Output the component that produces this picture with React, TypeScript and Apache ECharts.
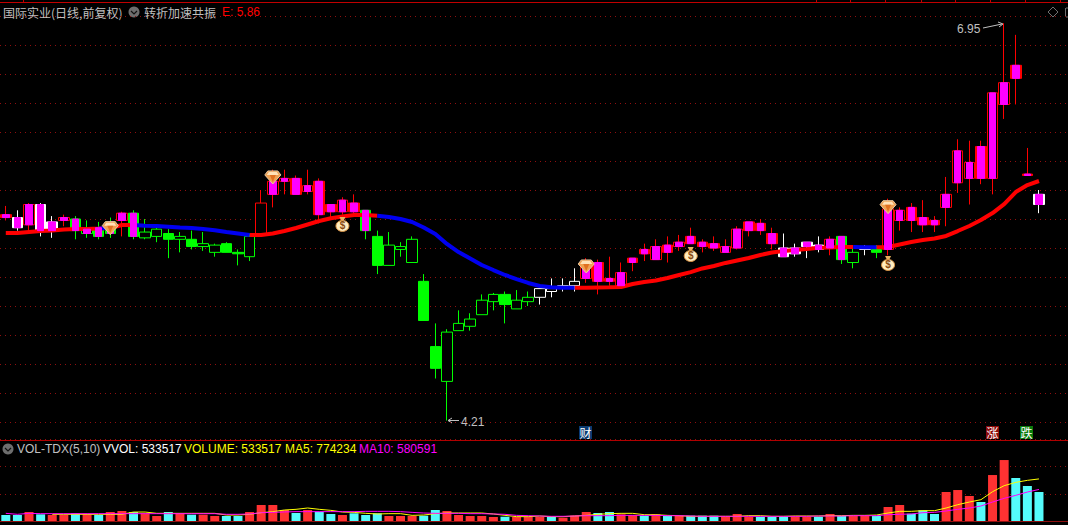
import React, { useEffect, useRef } from "react";
import * as echarts from "echarts";

const highs = [
  5.69,5.66,5.71,5.71,5.62,5.63,5.62,5.59,5.58,5.61,
  5.65,5.66,5.60,5.54,5.53,5.51,5.52,5.51,5.43,5.44,
  5.39,5.50,5.80,5.94,5.94,5.90,5.94,5.88,5.70,5.75,
  5.77,5.66,5.52,5.51,5.44,5.48,5.22,4.88,4.84,4.97,
  4.95,5.08,5.09,5.10,5.11,5.10,5.12,5.19,5.19,5.26,
  5.33,5.32,5.34,5.30,5.33,5.43,5.46,5.48,5.49,5.54,
  5.46,5.48,5.46,5.55,5.58,5.60,5.54,5.50,5.43,5.44,
  5.48,5.48,5.48,5.41,5.42,5.42,5.74,5.68,5.71,5.73,
  5.62,5.89,6.15,6.14,6.14,6.47,6.95,6.87,6.09,5.80,
];
const bodyHigh = [
  5.63,5.61,5.70,5.70,5.58,5.61,5.60,5.53,5.54,5.58,
  5.64,5.64,5.51,5.53,5.50,5.48,5.46,5.43,5.42,5.43,
  5.37,5.48,5.71,5.86,5.88,5.88,5.83,5.86,5.70,5.73,
  5.71,5.66,5.48,5.42,5.41,5.46,5.17,4.72,4.82,4.88,
  4.91,5.04,5.08,5.08,5.04,5.06,5.12,5.12,5.14,5.17,
  5.30,5.30,5.19,5.23,5.33,5.39,5.41,5.42,5.44,5.48,
  5.44,5.43,5.41,5.53,5.58,5.57,5.50,5.40,5.40,5.44,
  5.42,5.46,5.48,5.37,5.40,5.39,5.67,5.66,5.68,5.61,
  5.59,5.77,6.07,5.99,6.10,6.47,6.54,6.66,5.91,5.77,
];
const bodyLow = [
  5.61,5.54,5.56,5.52,5.52,5.59,5.52,5.50,5.48,5.50,
  5.59,5.48,5.47,5.48,5.46,5.46,5.41,5.41,5.37,5.37,
  5.36,5.34,5.49,5.77,5.86,5.77,5.79,5.63,5.65,5.65,
  5.65,5.52,5.28,5.28,5.39,5.30,4.90,4.57,4.48,4.83,
  4.86,4.94,5.03,5.01,4.98,5.03,5.06,5.10,5.13,5.14,
  5.19,5.17,5.17,5.14,5.30,5.36,5.32,5.37,5.41,5.43,
  5.41,5.40,5.37,5.40,5.52,5.52,5.43,5.34,5.36,5.41,
  5.39,5.40,5.32,5.30,5.39,5.37,5.39,5.59,5.59,5.56,
  5.56,5.68,5.85,5.88,5.88,5.88,6.39,6.57,5.90,5.70,
];
const lows = [
  5.59,5.52,5.52,5.48,5.47,5.55,5.46,5.47,5.46,5.47,
  5.48,5.46,5.46,5.44,5.33,5.37,5.39,5.38,5.34,5.37,
  5.28,5.31,5.49,5.68,5.77,5.77,5.77,5.57,5.61,5.63,
  5.63,5.46,5.22,5.28,5.34,5.30,4.90,4.50,4.21,4.83,
  4.83,4.94,4.97,4.88,4.98,5.00,5.01,5.06,5.10,5.10,
  5.16,5.08,5.14,5.14,5.24,5.31,5.32,5.30,5.38,5.43,
  5.37,5.38,5.37,5.39,5.48,5.49,5.39,5.34,5.34,5.33,
  5.37,5.35,5.29,5.26,5.35,5.33,5.35,5.52,5.51,5.51,
  5.51,5.55,5.78,5.70,5.84,5.77,6.29,6.39,5.90,5.64,
];
// S solid red, R hollow red, W solid white, G solid green, H hollow green (these five carry the magenta fill)
// r hollow red, g hollow green, F solid green, w hollow white
const kinds = [
  "S","W","R","W","W","R","G","H","G","G",
  "R","G","g","g","F","g","F","g","g","F",
  "F","g","r","R","R","S","R","S","S","R",
  "S","G","F","g","g","g","F","F","g","g",
  "g","g","g","F","g","g","w","w","w","w",
  "R","S","S","R","S","S","R","S","R","S",
  "S","S","R","R","S","S","S","W","W","W",
  "W","R","G","g","w","F","R","R","S","S",
  "S","R","R","R","S","R","R","S","S","W",
];
const trendE = [
  5.503,5.503,5.510,5.517,5.521,5.528,5.531,5.531,5.534,5.538,
  5.559,5.559,5.554,5.552,5.547,5.541,5.538,5.531,5.522,5.510,
  5.500,5.490,5.490,5.500,5.517,5.538,5.562,5.586,5.605,5.617,
  5.628,5.628,5.623,5.614,5.600,5.579,5.541,5.497,5.428,5.372,
  5.328,5.283,5.248,5.214,5.186,5.159,5.138,5.130,5.126,5.126,
  5.126,5.128,5.129,5.131,5.152,5.166,5.176,5.193,5.214,5.234,
  5.259,5.276,5.297,5.314,5.331,5.352,5.369,5.379,5.386,5.393,
  5.402,5.403,5.407,5.407,5.405,5.405,5.407,5.424,5.441,5.455,
  5.466,5.483,5.517,5.552,5.593,5.641,5.703,5.786,5.834,5.862,
];
const fallingSpans = [[8, 9], [11, 21], [32, 49], [73, 75]];
const diamondMarks = [[9, 5.54], [23, 5.89], [50, 5.276], [76, 5.685]];
const bagMarks = [[29, 5.566], [59, 5.359], [76, 5.297]];

// volume, thousands of shares
const volumes = [
  110,110,166,123,110,110,142,123,110,166,
  184,166,142,92,166,142,116,116,92,92,
  92,166,294,294,202,147,202,171,129,110,
  142,110,142,92,92,92,98,202,184,110,
  92,92,74,79,74,74,74,79,61,98,
  166,147,166,123,110,98,123,98,98,98,
  98,98,79,129,79,79,79,79,79,79,
  79,129,92,92,92,92,258,294,134,197,
  129,534,570,460,350,846,1122,791,644,533.517,
];
const volumeRising = [
  0,0,1,0,1,1,0,1,0,1,
  1,0,1,1,0,1,0,1,1,0,
  0,1,1,1,1,0,1,0,0,1,
  0,0,0,1,1,1,0,0,1,1,
  1,1,1,0,1,1,1,0,1,1,
  1,0,0,1,1,0,1,0,1,0,
  0,0,1,1,1,0,0,0,1,1,
  0,1,0,1,1,0,1,1,0,0,
  0,1,1,1,0,1,1,0,0,0,
];
const ma5 = [
  null,null,null,null,123,123,123,123,123,123,
  123,165,165,141,141,141,141,141,141,110,
  110,123,153,172,202,215,239,215,196,165,
  159,141,129,135,135,104,110,135,147,147,
  147,147,129,104,80,80,92,80,80,92,
  104,123,135,141,141,116,116,104,98,86,
  86,86,86,86,98,98,86,86,92,92,
  92,98,98,104,104,110,147,178,178,190,
  190,239,300,349,392,539,650,711,748,774.234,
];
const ma10 = [
  141,123,141,135,135,135,135,135,135,135,
  135,135,135,135,135,135,135,135,135,123,
  123,129,153,159,166,172,172,172,172,172,
  172,178,178,178,172,159,147,141,141,141,
  135,135,129,123,104,98,92,86,86,92,
  98,98,98,104,104,104,104,98,98,92,
  86,86,86,86,86,86,86,86,86,86,
  92,92,92,98,98,98,116,123,129,153,
  159,184,215,239,276,349,417,472,533,580.591,
];

const xLabels = Array.from({ length: 92 }, (_, i) => String(i));
const topTicks = [23, 816, 850, 885, 921, 955, 990, 1025, 1060];

const GREEN = "#00ff00", RED = "#ff0000", WHITE = "#ffffff", MAGENTA = "#ff00ff";
const kindStyle: Record<string, [string, string]> = {
  S: [RED, RED], R: [RED, "#000"], W: [WHITE, WHITE], G: [GREEN, GREEN], H: [GREEN, "#000"],
  r: [RED, "#000"], g: [GREEN, "#000"], F: [GREEN, GREEN], w: [WHITE, "#000"],
};
const GRID_LEFT = -0.5, GRID_WIDTH = 1069;
const CJK = '"Noto Sans CJK SC", sans-serif';
const LAT = '"Liberation Sans", Arial, sans-serif';

const isInside = (i: number) => fallingSpans.some(([a, b]) => i > a && i < b);
const isFalling = (i: number) => fallingSpans.some(([a, b]) => i >= a && i <= b);

function renderDiamond(_: any, api: any) {
  const [x, y] = api.coord([api.value(0), api.value(1)]);
  return {
    type: "group", x, y,
    children: [
      { type: "polygon", shape: { points: [[-5, -6], [5, -6], [8, -2], [0, 7], [-8, -2]] }, style: { fill: "#f0a050", stroke: "#e8c8a0", lineWidth: 1 } },
      { type: "polygon", shape: { points: [[-4, -5], [4, -5], [6, -2], [-6, -2]] }, style: { fill: "#ffe2b8" } },
      { type: "polygon", shape: { points: [[-3, -2], [3, -2], [0, 5]] }, style: { fill: "#e07020" } },
    ],
  };
}
function renderBag(_: any, api: any) {
  const [x, y] = api.coord([api.value(0), api.value(1)]);
  return {
    type: "group", x, y,
    children: [
      { type: "polygon", shape: { points: [[-3, -7], [3, -7], [1, -3], [-1, -3]] }, style: { fill: "#e8b060" } },
      { type: "ellipse", shape: { cx: 0, cy: 2, rx: 6.5, ry: 5.5 }, style: { fill: "#ffedc0", stroke: "#d89040", lineWidth: 1 } },
      { type: "text", style: { text: "$", x: 0, y: 2, fill: "#8a4a10", font: `bold 10px ${LAT}`, textAlign: "center", textVerticalAlign: "middle" } },
    ],
  };
}

const hText = (x: number, y: number, text: string, fill: string, family = LAT) => ({
  type: "text", x, y, silent: true,
  style: { text, fill, font: `12px ${family}`, textVerticalAlign: "middle" },
});
const hLine = (x1: number, y1: number, x2: number, y2: number, stroke: string, lineWidth = 1) => ({
  type: "line", silent: true, shape: { x1, y1, x2, y2 }, style: { stroke, lineWidth },
});
const circleIcon = (cx: number, cy: number) => ({
  type: "group", silent: true,
  children: [
    { type: "circle", shape: { cx, cy, r: 5.5 }, style: { fill: "#6e6e6e" } },
    { type: "polyline", shape: { points: [[cx - 3, cy - 1], [cx, cy + 2], [cx + 3, cy - 1]] }, style: { stroke: "#111", fill: "none", lineWidth: 1.2 } },
  ],
});
const badge = (x: number, y: number, text: string, bg: string) => ({
  type: "group", silent: true,
  children: [
    { type: "rect", shape: { x, y, width: 13, height: 13 }, style: { fill: bg } },
    { type: "text", x: x + 0.5, y: y + 6.5, style: { text, fill: "#fff", font: `12px ${CJK}`, textVerticalAlign: "middle" } },
  ],
});

export default function App() {
  const ref = useRef<HTMLDivElement>(null);
  useEffect(() => {
    document.body.style.margin = "0";
    document.body.style.background = "#000";
    const chart = echarts.init(ref.current!, null, { renderer: "svg" });
    const dotted = { show: true, lineStyle: { color: "#8f0f0f", type: [1, 4] as any, width: 1 } };
    chart.setOption({
      animation: false,
      backgroundColor: "#000",
      tooltip: { show: false },
      grid: [
        { left: GRID_LEFT, width: GRID_WIDTH, top: 16, height: 406 },
        { left: GRID_LEFT, width: GRID_WIDTH, top: 439.5, height: 81.5 },
      ],
      xAxis: [
        { type: "category", gridIndex: 0, data: xLabels, axisLine: { show: false }, axisTick: { show: false }, axisLabel: { show: false }, splitLine: { show: false } },
        { type: "category", gridIndex: 1, data: xLabels, axisLine: { show: true, lineStyle: { color: "#8f0f0f", width: 1 } }, axisTick: { show: false }, axisLabel: { show: false }, splitLine: { show: false } },
      ],
      yAxis: [
        { type: "value", gridIndex: 0, min: 4.2, max: 7, interval: 0.2, axisLine: { show: false }, axisTick: { show: false }, axisLabel: { show: false }, splitLine: dotted, showMinLine: true, showMaxLine: true },
        { type: "value", gridIndex: 1, min: 0, max: 1500, interval: 500, axisLine: { show: false }, axisTick: { show: false }, axisLabel: { show: false }, splitLine: dotted, showMinLine: false, showMaxLine: false },
      ],
      series: [
        {
          type: "candlestick", name: "K", xAxisIndex: 0, yAxisIndex: 0, z: 2, barWidth: 11, silent: true,
          data: highs.map((h, i) => {
            const [stroke, fill] = kindStyle[kinds[i]];
            return {
              value: [bodyLow[i], bodyHigh[i], lows[i], h],
              itemStyle: { color: fill, color0: fill, borderColor: stroke, borderColor0: stroke, borderWidth: 1 },
            };
          }),
        },
        {
          type: "line", name: "trend", xAxisIndex: 0, yAxisIndex: 0, z: 3, symbol: "none", silent: true,
          lineStyle: { color: RED, width: 4 },
          data: trendE.map((v, i) => (isInside(i) ? null : v)),
        },
        {
          type: "line", name: "trendDown", xAxisIndex: 0, yAxisIndex: 0, z: 3, symbol: "none", silent: true,
          lineStyle: { color: "#0000f0", width: 4 },
          data: trendE.map((v, i) => (isFalling(i) ? v : null)),
        },
        {
          type: "candlestick", name: "fill", xAxisIndex: 0, yAxisIndex: 0, z: 4, barWidth: 7, silent: true,
          itemStyle: { color: MAGENTA, color0: MAGENTA, borderColor: MAGENTA, borderColor0: MAGENTA, borderWidth: 1 },
          data: highs.map((_, i) =>
            "SRWGH".includes(kinds[i])
              ? [bodyLow[i], bodyHigh[i], bodyLow[i], bodyHigh[i]]
              : ["-", "-", "-", "-"]
          ),
        },
        { type: "custom", name: "diamonds", xAxisIndex: 0, yAxisIndex: 0, z: 6, silent: true, clip: false, renderItem: renderDiamond, data: diamondMarks },
        { type: "custom", name: "bags", xAxisIndex: 0, yAxisIndex: 0, z: 6, silent: true, clip: false, renderItem: renderBag, data: bagMarks },
        {
          type: "bar", name: "VOLUME", xAxisIndex: 1, yAxisIndex: 1, z: 2, barWidth: 9, silent: true,
          data: volumes.map((v, i) => ({ value: v, itemStyle: { color: volumeRising[i] ? "#ff3232" : "#54fcfc" } })),
        },
        { type: "line", name: "MA5", xAxisIndex: 1, yAxisIndex: 1, z: 3, symbol: "none", silent: true, lineStyle: { color: "#ffff00", width: 1 }, data: ma5 },
        { type: "line", name: "MA10", xAxisIndex: 1, yAxisIndex: 1, z: 4, symbol: "none", silent: true, lineStyle: { color: MAGENTA, width: 1 }, data: ma10 },
      ],
      graphic: [
        hLine(0, 2.5, 1068, 2.5, "#c00000", 1),
        ...topTicks.map((x) => hLine(x + 0.5, 0, x + 0.5, 2, "#c00000", 1)),
        hLine(0, 440.5, 1068, 440.5, "#b00000", 1),
        hText(3, 12, "国际实业(日线,前复权)", "#c0c0c0", CJK),
        circleIcon(134, 12),
        hText(144, 12, "转折加速共振", "#c0c0c0", CJK),
        hText(222, 12, "E: 5.86", "#ff0000"),
        { type: "polygon", silent: true, shape: { points: [[1053, 7], [1058, 12], [1053, 17], [1048, 12]] }, style: { fill: "none", stroke: "#707070", lineWidth: 1 } },
        hLine(1066, 8, 1068, 8, "#707070"),
        hLine(1065.5, 8, 1065.5, 17, "#707070"),
        hLine(1066, 17, 1068, 17, "#707070"),
        circleIcon(8, 449),
        hText(17, 449, "VOL-TDX(5,10)", "#c0c0c0"),
        hText(103, 449, "VVOL: 533517", "#ffffff"),
        hText(184, 449, "VOLUME: 533517", "#ffff00"),
        hText(285, 449, "MA5: 774234", "#ffff00"),
        hText(359, 449, "MA10: 580591", "#ff00ff"),
        hText(957, 29, "6.95", "#c0c0c0"),
        { type: "polyline", silent: true, shape: { points: [[983, 28], [1002, 24]] }, style: { stroke: "#c0c0c0", fill: "none", lineWidth: 1 } },
        { type: "polyline", silent: true, shape: { points: [[998, 22], [1003, 24], [999, 27]] }, style: { stroke: "#c0c0c0", fill: "none", lineWidth: 1 } },
        hText(461, 422, "4.21", "#c0c0c0"),
        hLine(448, 420.5, 459, 420.5, "#c0c0c0"),
        { type: "polyline", silent: true, shape: { points: [[452, 418], [448, 420.5], [452, 423]] }, style: { stroke: "#c0c0c0", fill: "none", lineWidth: 1 } },
        badge(579, 426, "财", "#0a3a70"),
        badge(986, 426, "涨", "#8b0a0a"),
        badge(1020, 426, "跌", "#0a7a0a"),
      ],
    });
    return () => chart.dispose();
  }, []);
  return (
    <div ref={ref} style={{ width: 1068, height: 525, background: "#000" }} />
  );
}
